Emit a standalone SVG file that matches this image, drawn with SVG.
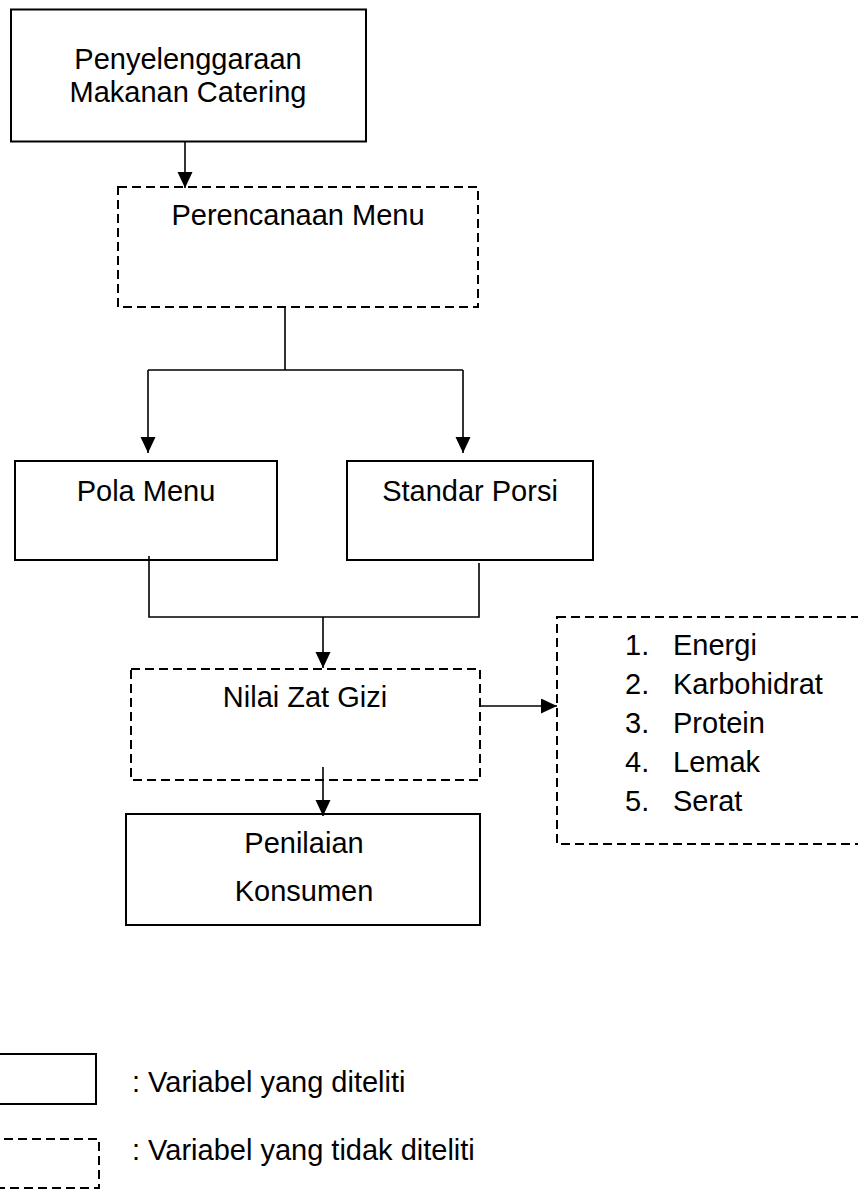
<svg xmlns="http://www.w3.org/2000/svg" width="858" height="1190" viewBox="0 0 858 1190">
  <style>
    .solid { fill: #ffffff; stroke: #000000; stroke-width: 2; }
    .dashed { fill: #ffffff; stroke: #000000; stroke-width: 2; stroke-dasharray: 9 5; }
    .conn { fill: none; stroke: #000000; stroke-width: 1.6; }
    text { font-family: "Liberation Sans", Arial, sans-serif; font-size: 29px; fill: #000000; }
    .c { text-anchor: middle; }
  </style>
  <defs>
    <marker id="arrow" markerUnits="userSpaceOnUse" markerWidth="17" markerHeight="16" refX="16" refY="7.5" orient="auto">
      <path d="M0,0 L16,7.5 L0,15 Z" fill="#000000"/>
    </marker>
  </defs>
  <rect width="858" height="1190" fill="#ffffff"/>

  <g id="node-penyelenggaraan">
    <rect class="solid" x="11" y="9.5" width="355" height="132" stroke-width="2.4"/>
    <text class="c" x="188" y="69">Penyelenggaraan</text>
    <text class="c" x="188" y="102">Makanan Catering</text>
  </g>

  <g id="node-perencanaan">
    <rect class="dashed" x="118" y="187" width="360" height="120"/>
    <text class="c" x="298" y="225">Perencanaan Menu</text>
  </g>

  <g id="node-pola">
    <rect class="solid" x="15" y="461" width="262" height="99"/>
    <text class="c" x="146" y="501">Pola Menu</text>
  </g>

  <g id="node-standar">
    <rect class="solid" x="347" y="461" width="246" height="99"/>
    <text class="c" x="470" y="501">Standar Porsi</text>
  </g>

  <g id="node-nilai">
    <rect class="dashed" x="131" y="669" width="349" height="111"/>
    <text class="c" x="305" y="707">Nilai Zat Gizi</text>
  </g>

  <g id="node-zatgizi">
    <rect class="dashed" x="557" y="617" width="320" height="227"/>
    <text x="625" y="655">1.</text><text x="673" y="655">Energi</text>
    <text x="625" y="694">2.</text><text x="673" y="694">Karbohidrat</text>
    <text x="625" y="733">3.</text><text x="673" y="733">Protein</text>
    <text x="625" y="772">4.</text><text x="673" y="772">Lemak</text>
    <text x="625" y="811">5.</text><text x="673" y="811">Serat</text>
  </g>

  <g id="node-penilaian">
    <rect class="solid" x="126" y="814" width="354" height="111"/>
    <text class="c" x="304" y="853">Penilaian</text>
    <text class="c" x="304" y="901">Konsumen</text>
  </g>

  <g id="legend">
    <rect class="solid" x="-10" y="1054" width="106" height="50"/>
    <text x="132" y="1092">: Variabel yang diteliti</text>
    <rect class="dashed" x="-10" y="1139" width="109" height="49"/>
    <text x="132" y="1160">: Variabel yang tidak diteliti</text>
  </g>

  <g id="connectors">
    <path class="conn" d="M185,141.5 L185,188" marker-end="url(#arrow)"/>
    <path class="conn" d="M285,307 L285,370 M148,370 L463,370"/>
    <path class="conn" d="M148,370 L148,453" marker-end="url(#arrow)"/>
    <path class="conn" d="M463,370 L463,453" marker-end="url(#arrow)"/>
    <path class="conn" d="M149,556 L149,617 L479,617 L479,563"/>
    <path class="conn" d="M323,617 L323,668" marker-end="url(#arrow)"/>
    <path class="conn" d="M480,706 L557,706" marker-end="url(#arrow)"/>
    <path class="conn" d="M323,767 L323,816" marker-end="url(#arrow)"/>
  </g>
</svg>
